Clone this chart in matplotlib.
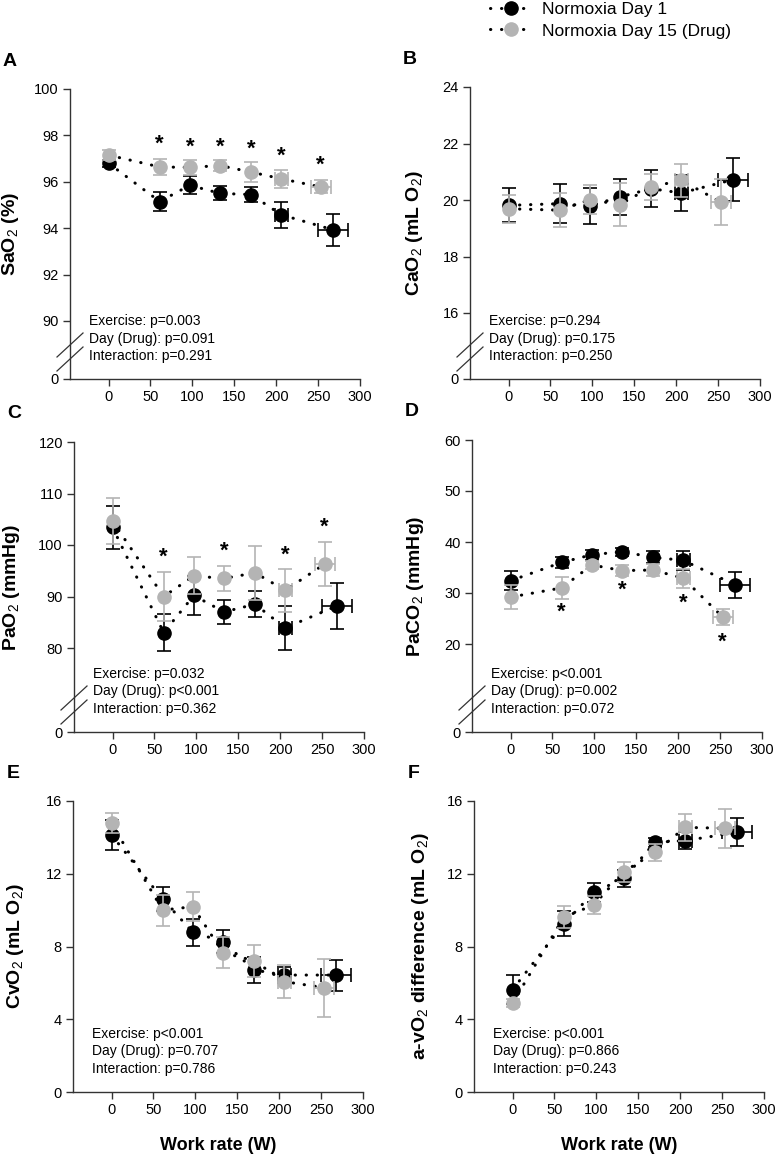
import numpy as np
import matplotlib
matplotlib.use('Agg')
import matplotlib.pyplot as plt
from matplotlib.lines import Line2D

plt.rcParams['font.family'] = ['Liberation Sans', 'DejaVu Sans']
plt.rcParams['mathtext.fontset'] = 'custom'
plt.rcParams['mathtext.rm'] = 'Liberation Sans'
plt.rcParams['mathtext.it'] = 'Liberation Sans:italic'
plt.rcParams['mathtext.bf'] = 'Liberation Sans:bold'

# work rate (W) for each stage
wr_day1 = [0, 61, 97, 133, 170, 206, 268]
wr_day15 = [0, 61, 97, 133, 170, 206, 253]
wr_err_day1 = [0, 0, 0, 0, 0, 8, 18]
wr_err_day15 = [0, 0, 0, 0, 0, 8, 12]

# A - SaO2 (%)
sao2_day1 = [96.8, 95.15, 95.85, 95.5, 95.45, 94.58, 93.93]
sao2_err1 = [0.15, 0.43, 0.38, 0.3, 0.34, 0.55, 0.7]
sao2_day15 = [97.15, 96.64, 96.62, 96.7, 96.42, 96.13, 95.78]
sao2_err15 = [0.2, 0.33, 0.33, 0.22, 0.43, 0.4, 0.28]
sao2_star_x = [61, 97, 133, 170, 206, 253]
sao2_star_y = [97.6, 97.5, 97.5, 97.4, 97.1, 96.7]

# B - CaO2 (mL O2)
cao2_day1 = [19.81, 19.87, 19.79, 20.11, 20.4, 20.25, 20.72]
cao2_err1 = [0.6, 0.68, 0.65, 0.63, 0.66, 0.64, 0.76]
cao2_day15 = [19.69, 19.64, 20.01, 19.84, 20.46, 20.7, 19.93]
cao2_err15 = [0.5, 0.6, 0.52, 0.77, 0.47, 0.58, 0.83]

# C - PaO2 (mmHg)
pao2_day1 = [103.4, 83.0, 90.2, 87.0, 88.5, 83.9, 88.2]
pao2_err1 = [4.1, 3.6, 3.7, 2.3, 2.5, 4.3, 4.5]
pao2_day15 = [104.6, 90.0, 94.0, 93.5, 94.6, 91.2, 96.3]
pao2_err15 = [4.5, 4.8, 3.6, 2.4, 5.3, 4.2, 4.3]
pao2_star_x = [61, 133, 206, 253]
pao2_star_y = [97.7, 98.7, 98.0, 103.5]

# D - PaCO2 (mmHg)
paco2_day1 = [32.4, 36.0, 37.5, 38.1, 37.0, 36.4, 31.6]
paco2_err1 = [1.9, 1.1, 1.0, 0.8, 1.2, 1.8, 2.6]
paco2_day15 = [29.2, 31.0, 35.5, 34.4, 34.5, 32.9, 25.3]
paco2_err15 = [2.3, 2.1, 0.8, 1.1, 1.2, 1.9, 1.6]
paco2_star_x = [61, 133, 206, 253]
paco2_star_y = [26.3, 30.5, 27.9, 20.4]

# E - CvO2 (mL O2)
cvo2_day1 = [14.13, 10.6, 8.78, 8.27, 6.71, 6.43, 6.43]
cvo2_err1 = [0.8, 0.67, 0.73, 0.64, 0.69, 0.45, 0.85]
cvo2_day15 = [14.77, 10.0, 10.19, 7.66, 7.22, 6.07, 5.74]
cvo2_err15 = [0.55, 0.85, 0.79, 0.85, 0.87, 0.89, 1.6]

# F - a-vO2 difference (mL O2)
avo2_day1 = [5.63, 9.24, 10.98, 11.75, 13.73, 13.82, 14.28]
avo2_err1 = [0.8, 0.69, 0.51, 0.46, 0.25, 0.46, 0.77]
avo2_day15 = [4.89, 9.6, 10.29, 12.12, 13.18, 14.55, 14.5]
avo2_err15 = [0.2, 0.6, 0.5, 0.55, 0.46, 0.73, 1.08]

stats_A = ['Exercise: p=0.003', 'Day (Drug): p=0.091', 'Interaction: p=0.291']
stats_B = ['Exercise: p=0.294', 'Day (Drug): p=0.175', 'Interaction: p=0.250']
stats_C = ['Exercise: p=0.032', 'Day (Drug): p<0.001', 'Interaction: p=0.362']
stats_D = ['Exercise: p<0.001', 'Day (Drug): p=0.002', 'Interaction: p=0.072']
stats_E = ['Exercise: p<0.001', 'Day (Drug): p=0.707', 'Interaction: p=0.786']
stats_F = ['Exercise: p<0.001', 'Day (Drug): p=0.866', 'Interaction: p=0.243']

BLACK = '#000000'
GREY = '#b4b4b4'
AXC = '#333333'
DOTS = (0, (0.1, 3.5))

W, H = 777, 1160
fig = plt.figure(figsize=(W / 100, H / 100), dpi=100)

# layout in pixels: left spine x, x-axis y, axes height
panels = [
    dict(letter='A', left=70, bottom=379, height=290, ylabel=r'SaO$_2$ (%)',
         yticks=[90, 92, 94, 96, 98, 100], brk=(90, 58), d1=sao2_day1, e1=sao2_err1,
         d15=sao2_day15, e15=sao2_err15, stats=stats_A, sx=sao2_star_x, sy=sao2_star_y,
         lab_off=49),
    dict(letter='B', left=470, bottom=379, height=292, ylabel=r'CaO$_2$ (mL O$_2$)',
         yticks=[16, 18, 20, 22, 24], brk=(16, 66), d1=cao2_day1, e1=cao2_err1,
         d15=cao2_day15, e15=cao2_err15, stats=stats_B, sx=[], sy=[], lab_off=45),
    dict(letter='C', left=74, bottom=732, height=290, ylabel=r'PaO$_2$ (mmHg)',
         yticks=[80, 90, 100, 110, 120], brk=(80, 84), d1=pao2_day1, e1=pao2_err1,
         d15=pao2_day15, e15=pao2_err15, stats=stats_C, sx=pao2_star_x, sy=pao2_star_y,
         lab_off=52),
    dict(letter='D', left=472, bottom=732, height=292, ylabel=r'PaCO$_2$ (mmHg)',
         yticks=[20, 30, 40, 50, 60], brk=(20, 88), d1=paco2_day1, e1=paco2_err1,
         d15=paco2_day15, e15=paco2_err15, stats=stats_D, sx=paco2_star_x, sy=paco2_star_y,
         lab_off=46),
    dict(letter='E', left=73, bottom=1092, height=291, ylabel=r'CvO$_2$ (mL O$_2$)',
         yticks=[0, 4, 8, 12, 16], brk=None, d1=cvo2_day1, e1=cvo2_err1,
         d15=cvo2_day15, e15=cvo2_err15, stats=stats_E, sx=[], sy=[], lab_off=47),
    dict(letter='F', left=474, bottom=1092, height=291,
         ylabel=r'a-vO$_2$ difference (mL O$_2$)',
         yticks=[0, 4, 8, 12, 16], brk=None, d1=avo2_day1, e1=avo2_err1,
         d15=avo2_day15, e15=avo2_err15, stats=stats_F, sx=[], sy=[], lab_off=43),
]

AXW = 290


def make_scale(lo, p_lo, top, p_top):
    # piecewise linear y scale: compressed segment below the axis break
    k = (p_top - p_lo) / (top - lo)
    p_b = p_lo * 0.6
    y_b = lo - (p_lo - p_b) / k

    def fwd(y):
        y = np.asarray(y, dtype=float)
        return np.where(y < y_b, y * p_b / y_b, p_b + (y - y_b) * k)

    def inv(p):
        p = np.asarray(p, dtype=float)
        return np.where(p < p_b, p * y_b / p_b, y_b + (p - p_b) / k)
    return fwd, inv


def series(ax, x, y, yerr, xerr, color, z):
    ax.plot(x, y, color='black', ls=DOTS, lw=2.2, dash_capstyle='round', zorder=2)
    ax.errorbar(x, y, yerr=yerr, fmt='o', color=color, ecolor=color, ms=9.5,
                capsize=5, elinewidth=1.2, capthick=1.2, zorder=z)
    xe = np.array(xerr, dtype=float)
    m = xe > 0
    ax.errorbar(np.array(x)[m], np.array(y)[m], xerr=xe[m], fmt='none',
                ecolor=color, capsize=5, elinewidth=1.2, capthick=1.2, zorder=z)


for p in panels:
    ax = fig.add_axes([p['left'] / W, (H - p['bottom']) / H, AXW / W, p['height'] / H])
    top = p['yticks'][-1]
    if p['brk'] is not None:
        lo, p_lo = p['brk']
        fwd, inv = make_scale(lo, p_lo, top, p['height'])
        ax.set_yscale('function', functions=(fwd, inv))
        ax.set_yticks([0] + p['yticks'])
    else:
        ax.set_yticks(p['yticks'])
    ax.set_ylim(0, top)
    ax.set_xlim(-46, 300)
    ax.set_xticks([0, 50, 100, 150, 200, 250, 300])
    ax.yaxis.set_minor_locator(matplotlib.ticker.NullLocator())
    ax.set_yticklabels([str(t) for t in ax.get_yticks().astype(int)])

    for s in ['top', 'right']:
        ax.spines[s].set_visible(False)
    for s in ['left', 'bottom']:
        ax.spines[s].set_color(AXC)
        ax.spines[s].set_linewidth(1)
    ax.tick_params(direction='out', length=5, width=1, color=AXC, labelsize=10.5, pad=3)

    series(ax, wr_day1, p['d1'], p['e1'], wr_err_day1, BLACK, 3)
    series(ax, wr_day15, p['d15'], p['e15'], wr_err_day15, GREY, 4)

    for sx, sy in zip(p['sx'], p['sy']):
        ax.text(sx, sy, '*', ha='center', va='center', fontsize=16, fontweight='bold')

    for i, line in enumerate(p['stats']):
        ax.annotate(line, xy=(0, 0), xycoords='axes fraction',
                    xytext=(19 * 0.72, (58 - i * 17.5) * 0.72), textcoords='offset points',
                    ha='left', va='center', fontsize=10)

    ax.set_ylabel(p['ylabel'], fontsize=14, fontweight='bold')
    ax.yaxis.set_label_coords(-p['lab_off'] / AXW, 0.5)

    # break marks on the y axis
    if p['brk'] is not None:
        for dy in (20, 34):
            xc = p['left']
            yc = p['bottom'] - dy
            fig.add_artist(Line2D([(xc - 13) / W, (xc + 13) / W],
                                  [(H - yc - 12) / H, (H - yc + 12) / H],
                                  color=AXC, lw=0.9))

    fig.text((p['left'] - 60) / W, 1 - (p['bottom'] - p['height'] - 28) / H, p['letter'],
             fontsize=14, fontweight='bold', ha='center', va='center')

    if p['letter'] in ('E', 'F'):
        ax.set_xlabel('Work rate (W)', fontsize=13, fontweight='bold')
        ax.xaxis.set_label_coords(0.5, -45 / p['height'])

handles = [
    Line2D([], [], color='black', ls=DOTS, lw=2.2, dash_capstyle='round', marker='o',
           ms=9.5, mfc=BLACK, mec=BLACK),
    Line2D([], [], color='black', ls=DOTS, lw=2.2, dash_capstyle='round', marker='o',
           ms=9.5, mfc=GREY, mec=GREY),
]
fig.legend(handles, ['Normoxia Day 1', 'Normoxia Day 15 (Drug)'], loc='upper left',
           bbox_to_anchor=(490 / W, 1 - 2 / H), frameon=False, fontsize=12.5,
           handlelength=2.4, handletextpad=0.6, labelspacing=0.36, borderpad=0,
           borderaxespad=0)

fig.savefig('out.png', dpi=100)
